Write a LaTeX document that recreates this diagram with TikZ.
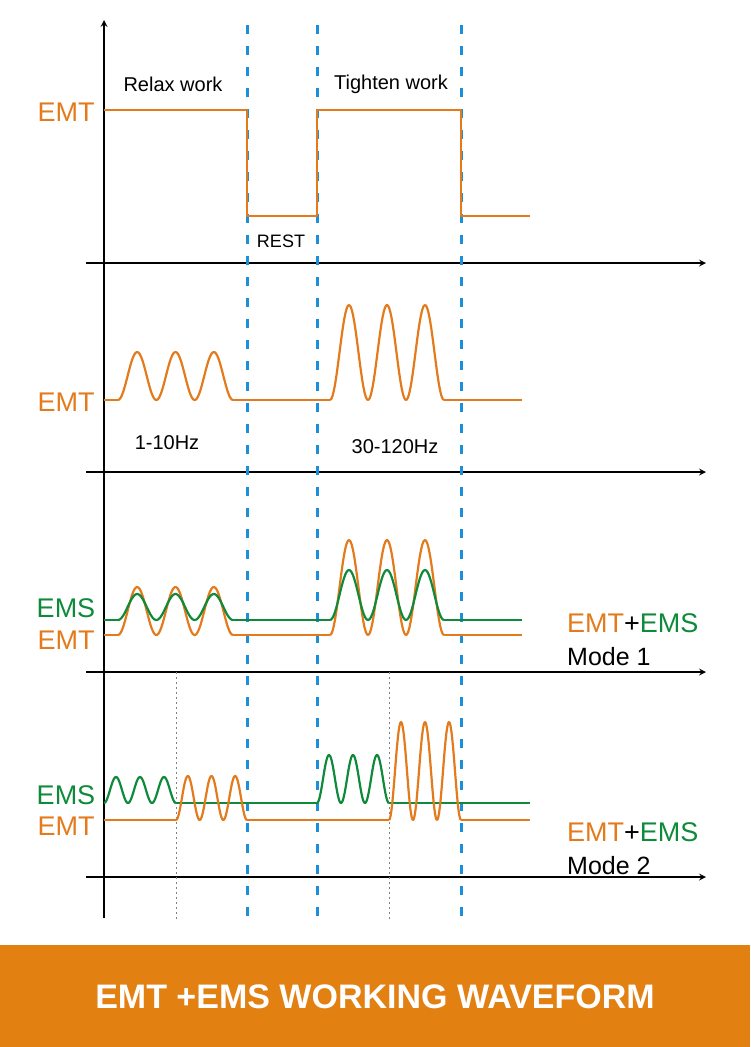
\documentclass[tikz,border=0pt]{standalone}
\usepackage{fontspec}
\setmainfont{Liberation Sans}
\definecolor{emt}{HTML}{E37B1C}
\definecolor{ems}{HTML}{0E8A3A}
\definecolor{sep}{HTML}{1C8FDA}
\definecolor{band}{HTML}{E38012}
\newcommand{\hump}[6][emt]{\draw[#1,line width=2.2pt]plot[domain=#2:#3,samples=90]
  (\x,{#4-#5/2*(1-cos((\x-#2)/(#3-#2)*360*#6))});}
\tikzset{lbl/.style={font=\fontsize{27}{27}\selectfont,inner sep=0pt},
  txt/.style={font=\fontsize{20}{20}\selectfont,inner sep=0pt}}
\begin{document}
\begin{tikzpicture}[x=1pt,y=-1pt,line join=round]
\useasboundingbox(0,0)rectangle(750,1047);
\fill[band](0,945)rectangle(750,1047);
\node[text=white,font=\bfseries\fontsize{34}{34}\selectfont](title)at(375,997){EMT +EMS WORKING WAVEFORM};
% axes
\draw[line width=2pt,-stealth](104,918)--(104,20);
\foreach \y in {263,472,672,877}
  \draw[line width=2pt,-stealth](86,\y)--(706,\y);
\foreach \x in {247,317,461}
  \draw[sep,line width=3pt,dash pattern=on 9pt off 12pt](\x,25)--(\x,920);
\foreach \x in {176,389}
  \draw[gray,line width=0.6pt,dash pattern=on 2pt off 3pt](\x,672)--(\x,920);
% row 1
\draw[emt,line width=2.2pt](104,110)--(247,110)--(247,216)--(317,216)--(317,110)--(461,110)--(461,216)--(530,216);
\node[lbl,text=emt](emt1)at(66,112){EMT};
\node[txt](relax)at(173,84){Relax work};
\node[txt](tight)at(391,84){Tighten work};
\node[txt,font=\fontsize{18}{18}\selectfont](rest)at(281,241){REST};
% row 2
\draw[emt,line width=2.2pt](104,400)--(118,400) (233,400)--(330,400) (444,400)--(522,400);
\hump{118}{233}{400}{48}{3}
\hump{330}{444}{400}{95}{3}
\node[lbl,text=emt](emt2)at(66,402){EMT};
\node[txt](lo)at(167,443){1-10Hz};
\node[txt](hi)at(395,447){30-120Hz};
% row 3
\draw[ems,line width=2.2pt](104,620)--(118,620) (233,620)--(330,620) (444,620)--(522,620);
\draw[emt,line width=2.2pt](104,635)--(118,635) (233,635)--(330,635) (444,635)--(522,635);
\hump{118}{233}{635}{48}{3}
\hump[ems]{118}{233}{620}{26}{3}
\hump{330}{444}{635}{95}{3}
\hump[ems]{330}{444}{620}{50}{3}
\node[lbl,text=ems](ems3)at(66,608){EMS};
\node[lbl,text=emt](emt3)at(66,640){EMT};
\node[lbl,anchor=west](sum3)at(567,623){\textcolor{emt}{EMT}+\textcolor{ems}{EMS}};
\node[lbl,anchor=west,font=\fontsize{25}{25}\selectfont](mode1)at(567,657){Mode 1};
% row 4
\draw[ems,line width=2.2pt](176,803)--(317,803) (389,803)--(530,803);
\draw[emt,line width=2.2pt](104,820)--(176,820) (247,820)--(389,820) (461,820)--(530,820);
\hump[ems]{104}{176}{803}{26}{3}
\hump[ems]{317}{389}{803}{48}{3}
\hump{176}{247}{820}{44}{3}
\hump{389}{461}{820}{98}{3}
\node[lbl,text=ems](ems4)at(66,795){EMS};
\node[lbl,text=emt](emt4)at(66,826){EMT};
\node[lbl,anchor=west](sum4)at(567,832){\textcolor{emt}{EMT}+\textcolor{ems}{EMS}};
\node[lbl,anchor=west,font=\fontsize{25}{25}\selectfont](mode2)at(567,866){Mode 2};
\end{tikzpicture}
\end{document}
